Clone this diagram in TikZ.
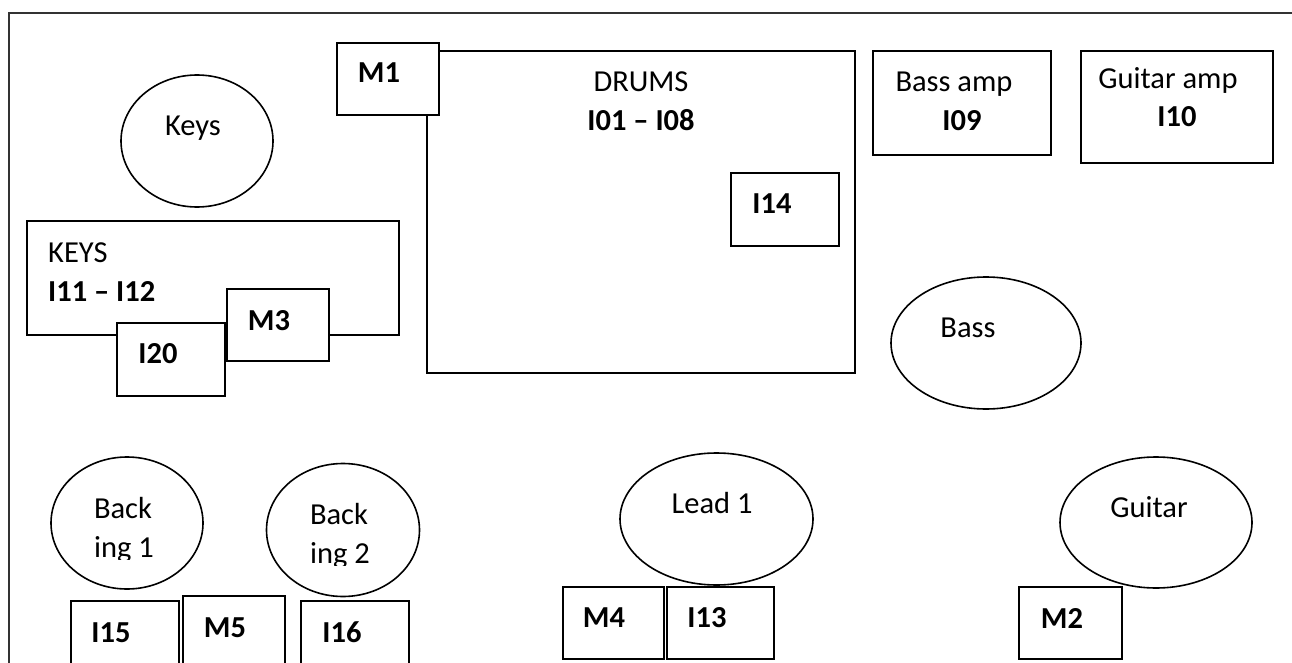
\documentclass[tikz,border=0pt]{standalone}
\usepackage{fontspec}
\setmainfont{Carlito}
\usetikzlibrary{shapes.geometric,fit}
\begin{document}
\begin{tikzpicture}[x=1pt,y=-1pt,
  box/.style={draw, line width=2pt, fill=white, inner sep=0pt},
  oval/.style={draw, line width=1.6pt, ellipse, inner sep=0pt},
  txt/.style={anchor=base, inner sep=0pt, font=\fontsize{30.5}{36}\selectfont},
  btxt/.style={anchor=base, inner sep=0pt, font=\fontsize{30.5}{36}\selectfont\bfseries}]
\useasboundingbox (0,0) rectangle (1292,663);
\clip (0,0) rectangle (1292,663);
% frame
\coordinate (ftl) at (9,13);
\coordinate (ftr) at (1300,13);
\coordinate (fbl) at (9,670);
\draw[line width=2pt, black!80] (ftr) -- (ftl) -- (fbl);

% drums
\node[box, fit={(427,51) (855,373)}] (drums) {};
\node[box, fit={(337,43) (439,115)}] (M1) {};
\node[box, fit={(731,173) (839,246)}] (I14) {};
\node[txt] (drumsT) at (641,92) {DRUMS};
\node[btxt] (drumsI) at (641,131) {I01 – I08};
\node[btxt] (M1T) at (379,83) {M1};
\node[btxt] (I14T) at (772,213) {I14};

% keys
\node[oval, minimum width=152pt, minimum height=132pt] (keys) at (197,141) {};
\node[txt] (keysT) at (193,136) {Keys};
\node[box, fit={(27,221) (399,335)}] (keysbox) {};
\node[txt, anchor=base west] (keysboxT) at (48,262) {KEYS};
\node[btxt, anchor=base west] (keysboxI) at (48,301) {I11 – I12};
\node[box, fit={(227,289) (329,361)}] (M3) {};
\node[box, fit={(117,323) (225,396)}] (I20) {};
\node[btxt] (M3T) at (269,330) {M3};
\node[btxt] (I20T) at (158,363) {I20};

% amps
\node[box, fit={(873,51) (1051,155)}] (bassamp) {};
\node[txt] (bassampT) at (954,92) {Bass amp};
\node[btxt] (bassampI) at (962,131) {I09};
\node[box, fit={(1081,51) (1273,163)}] (guitaramp) {};
\node[txt] (guitarampT) at (1168,89) {Guitar amp};
\node[btxt] (guitarampI) at (1177,127) {I10};

% bass
\node[oval, minimum width=190pt, minimum height=132pt] (bass) at (986,343) {};
\node[txt] (bassT) at (968,337) {Bass};

% backing 1
\node[oval, minimum width=152pt, minimum height=132pt] (back1) at (127,523) {};
\begin{scope}
  \clip (40,470) rectangle (210,559);
  \node[txt] (back1a) at (123,518) {Back};
  \node[txt] (back1b) at (124,557) {ing 1};
\end{scope}
% backing 2
\node[oval, minimum width=153pt, minimum height=133pt] (back2) at (343,530) {};
\begin{scope}
  \clip (260,470) rectangle (420,565);
  \node[txt] (back2a) at (339,524) {Back};
  \node[txt] (back2b) at (340,563) {ing 2};
\end{scope}
\node[box, fit={(71,601) (179,690)}] (I15) {};
\node[box, fit={(183,596) (285,690)}] (M5) {};
\node[box, fit={(301,601) (409,690)}] (I16) {};
\node[btxt] (I15T) at (111,642) {I15};
\node[btxt] (M5T) at (225,637) {M5};
\node[btxt] (I16T) at (342,642) {I16};

% lead 1
\node[oval, minimum width=193pt, minimum height=132pt] (lead) at (716.5,519) {};
\node[txt] (leadT) at (712,513) {Lead 1};
\node[box, fit={(563,587) (664,659)}] (M4) {};
\node[box, fit={(667,587) (774,659)}] (I13) {};
\node[btxt] (M4T) at (604,627) {M4};
\node[btxt] (I13T) at (707,627) {I13};

% guitar
\node[oval, minimum width=192pt, minimum height=131pt] (guitar) at (1156,522.5) {};
\node[txt] (guitarT) at (1149,517) {Guitar};
\node[box, fit={(1019,587) (1122,659)}] (M2) {};
\node[btxt] (M2T) at (1062,628) {M2};
\end{tikzpicture}
\end{document}
